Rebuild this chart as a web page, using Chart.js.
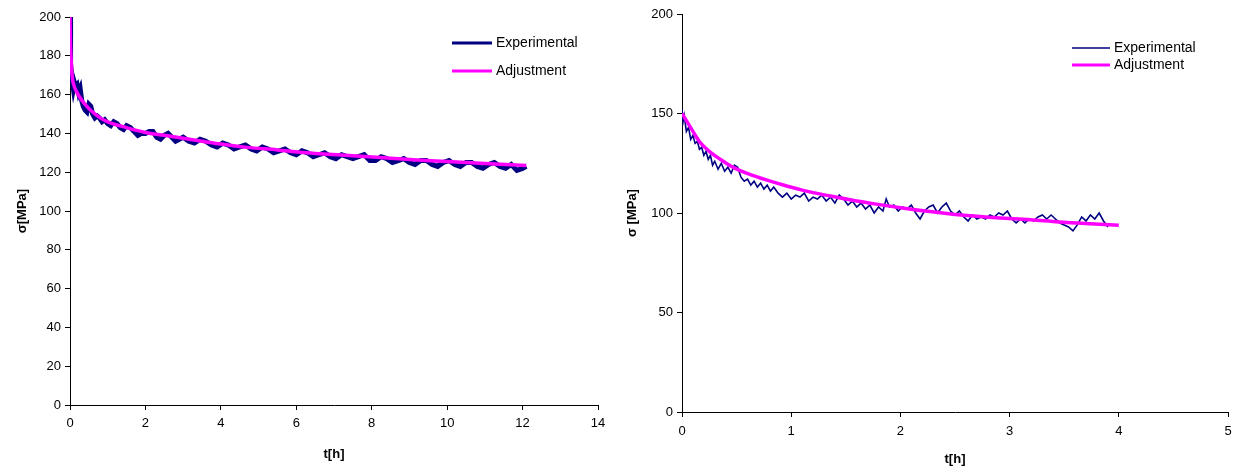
<!DOCTYPE html>
<html>
<head>
<meta charset="utf-8">
<script src="https://cdn.jsdelivr.net/npm/chart.js@4.4.1/dist/chart.umd.min.js"></script>
<style>
    body { margin: 0; background: #fff; }
    .panel { position: absolute; top: 0; width: 620px; height: 474px; }
</style>
</head>
<body>
<div class="panel" style="left:0"><canvas id="chartLeft" width="620" height="474"></canvas></div>
<div class="panel" style="left:620px"><canvas id="chartRight" width="620" height="474"></canvas></div>
<script>
// Sol grafik - deney verisi (t[h], sigma[MPa])
const expTimeLeft = [0.00, 0.01, 0.02, 0.04, 0.06, 0.09, 0.12, 0.15, 0.19, 0.23, 0.27, 0.31, 0.35, 0.40, 0.45,
    0.50, 0.55, 0.60, 0.66, 0.72, 0.78, 0.85, 0.92, 1.00, 1.08, 1.16, 1.25, 1.33, 1.42, 1.50, 1.60, 1.70,
    1.80, 1.90, 2.00, 2.10, 2.20, 2.30, 2.40, 2.50, 2.60, 2.70, 2.80, 2.90, 3.00, 3.15, 3.30, 3.45, 3.60,
    3.75, 3.90, 4.05, 4.20, 4.35, 4.50, 4.65, 4.80, 4.95, 5.10, 5.25, 5.40, 5.55, 5.70, 5.85, 6.00, 6.15,
    6.30, 6.45, 6.60, 6.75, 6.90, 7.05, 7.20, 7.35, 7.50, 7.65, 7.80, 7.95, 8.10, 8.25, 8.40, 8.55, 8.70,
    8.85, 9.00, 9.15, 9.30, 9.45, 9.60, 9.75, 9.90, 10.05, 10.20, 10.35, 10.50, 10.65, 10.80, 10.95, 11.10,
    11.25, 11.40, 11.55, 11.70, 11.85, 12.00, 12.10];
const expValLeft = [200, 186, 176, 170, 167, 163, 166, 164, 165, 161, 163, 157, 154, 152, 151,
    155, 154, 150, 148, 149, 148, 146, 147, 145, 144, 146, 145, 143, 142, 144, 143, 141,
    139, 140, 140, 141, 141, 138, 137, 139, 140, 138, 136, 137, 138, 136, 135, 137, 136,
    134, 133, 135, 134, 132, 133, 134, 132, 131, 133, 132, 130, 131, 132, 130, 129, 131,
    130, 128, 129, 130, 128, 127, 129, 128, 127, 128, 129, 126, 126, 128, 127, 125, 126,
    127, 125, 124, 126, 126, 124, 123, 125, 126, 124, 123, 125, 125, 123, 122, 124,
    125, 123, 122, 124, 121, 122, 123];

// Sol grafik - uyum eğrisi
const fitTimeLeft = [0, 0.01, 0.03, 0.06, 0.1, 0.2, 0.3, 0.4, 0.6, 0.8, 1.0, 1.5, 2.0, 2.5, 3.0, 3.5, 4.0,
    4.7, 5.5, 6.1, 6.5, 7.5, 8.5, 9.1, 10, 11, 12.1];
const fitValLeft = [200, 188, 178, 169, 165, 160.5, 157.5, 155, 151, 148, 146, 143, 140.5, 139, 137.5, 136, 134.5,
    132.8, 131.5, 130.3, 129.7, 128.5, 127.2, 126.4, 125.5, 124.5, 123.4];

// Sağ grafik - deney verisi
const expTimeRight = [0.00, 0.01, 0.02, 0.04, 0.06, 0.08, 0.10, 0.12, 0.14, 0.16, 0.18, 0.20, 0.22, 0.24, 0.26,
    0.28, 0.30, 0.33, 0.36, 0.39, 0.42, 0.45, 0.48, 0.51, 0.54, 0.57, 0.60, 0.63, 0.66, 0.69, 0.72, 0.75,
    0.78, 0.81, 0.84, 0.88, 0.92, 0.96, 1.00, 1.04, 1.08, 1.12, 1.16, 1.20, 1.24, 1.28, 1.32, 1.36, 1.40,
    1.44, 1.48, 1.52, 1.56, 1.60, 1.64, 1.68, 1.72, 1.76, 1.80, 1.84, 1.87, 1.90, 1.94, 1.98, 2.02, 2.06,
    2.10, 2.14, 2.18, 2.22, 2.26, 2.30, 2.34, 2.38, 2.42, 2.46, 2.50, 2.54, 2.58, 2.62, 2.66, 2.70, 2.74,
    2.78, 2.82, 2.86, 2.90, 2.94, 2.98, 3.02, 3.06, 3.10, 3.14, 3.18, 3.22, 3.26, 3.30, 3.34, 3.38, 3.42,
    3.46, 3.50, 3.54, 3.58, 3.62, 3.66, 3.70, 3.74, 3.78, 3.82, 3.86, 3.90];
const expValRight = [152, 146, 149, 141, 143, 137, 139, 135, 136, 132, 133, 129, 131, 127, 129,
    124, 126, 122, 125, 121, 123, 120, 124, 123, 118, 116, 117, 114, 116, 113, 115, 112,
    114, 111, 113, 110, 108, 110, 107, 109, 108, 110, 106, 108, 107, 109, 106, 108, 105,
    109, 107, 104, 106, 103, 105, 102, 104, 100, 103, 101, 107, 103, 104, 101, 103, 102,
    104, 100, 97, 101, 103, 104, 100, 103, 105, 101, 99, 101, 98, 96, 99, 97, 98,
    97, 99, 98, 100, 99, 101, 97, 95, 97, 95, 97, 96, 98, 99, 97, 99, 97,
    95, 94, 93, 91, 94, 98, 96, 99, 97, 100, 96, 93];

// Sağ grafik - uyum eğrisi
const fitTimeRight = [0, 0.05, 0.1, 0.165, 0.25, 0.35, 0.45, 0.59, 0.75, 0.9, 1.1, 1.36, 1.6, 1.81, 2.05,
    2.27, 2.5, 2.73, 3.0, 3.19, 3.45, 3.74, 4.0];
const fitValRight = [150, 145.5, 141, 135.5, 131, 127, 123.5, 120, 117, 114.5, 111.5, 108.5, 106, 104.2, 102.3,
    100.7, 99.3, 98.2, 97.2, 96.6, 95.5, 94.6, 93.9];

const seriesNames = ['Experimental', 'Adjustment'];
const FONT = "'Liberation Sans', Arial, sans-serif";

function toPoints(xs, ys) {
    return xs.map((x, i) => ({ x: x, y: ys[i] }));
}

// Grafik içine elle çizilen lejant
const insideLegend = {
    id: 'insideLegend',
    afterDraw(chart, args, opts) {
        const ctx = chart.ctx;
        ctx.save();
        ctx.font = opts.fontSize + 'px ' + FONT;
        ctx.textBaseline = 'middle';
        ctx.fillStyle = '#000';
        chart.data.datasets.forEach((ds, i) => {
            const y = opts.y + i * opts.rowH;
            ctx.strokeStyle = ds.borderColor;
            ctx.lineWidth = opts.lineWidths[i];
            ctx.beginPath();
            ctx.moveTo(opts.x, y);
            ctx.lineTo(opts.x + opts.lineLen, y);
            ctx.stroke();
            ctx.fillText(ds.label, opts.x + opts.lineLen + 4, y);
        });
        ctx.restore();
    }
};

function renderChart(canvasId, cfg) {
    const ctx = document.getElementById(canvasId).getContext('2d');
    return new Chart(ctx, {
        type: 'scatter',
        data: {
            datasets: [{
                label: seriesNames[0],
                data: toPoints(cfg.expT, cfg.expV),
                borderColor: '#000080',
                backgroundColor: '#000080',
                borderWidth: cfg.expWidth,
                showLine: true,
                pointRadius: 0,
                tension: 0,
                order: 2
            }, {
                label: seriesNames[1],
                data: toPoints(cfg.fitT, cfg.fitV),
                borderColor: '#ff00ff',
                backgroundColor: '#ff00ff',
                borderWidth: 3.5,
                showLine: true,
                pointRadius: 0,
                cubicInterpolationMode: 'monotone',
                order: 1
            }]
        },
        options: {
            responsive: false,
            animation: false,
            layout: { padding: cfg.padding },
            plugins: {
                legend: { display: false },
                tooltip: { enabled: false },
                insideLegend: cfg.legend
            },
            scales: {
                x: {
                    type: 'linear',
                    min: 0,
                    max: cfg.xMax,
                    afterFit: s => { s.height = cfg.xHeight; },
                    ticks: { stepSize: cfg.xStep, color: '#000', padding: cfg.xTickPad, font: { family: FONT, size: 13 } },
                    grid: { drawOnChartArea: false, drawTicks: true, tickLength: 5, color: '#000' },
                    border: { display: true, color: '#000', width: 1 },
                    title: { display: true, text: 't[h]', color: '#000', font: { family: FONT, size: 13, weight: 'bold' }, padding: { top: 0, bottom: cfg.xTitlePad } }
                },
                y: {
                    type: 'linear',
                    min: 0,
                    max: 200,
                    afterFit: s => { s.width = cfg.yWidth; },
                    ticks: { stepSize: cfg.yStep, color: '#000', padding: 4, font: { family: FONT, size: 13 } },
                    grid: { drawOnChartArea: false, drawTicks: true, tickLength: 5, color: '#000' },
                    border: { display: true, color: '#000', width: 1 },
                    title: { display: true, text: cfg.yTitle, color: '#000', font: { family: FONT, size: 13, weight: 'bold' }, padding: { top: cfg.yTitlePad, bottom: 0 } }
                }
            }
        },
        plugins: [insideLegend]
    });
}

renderChart('chartLeft', {
    expT: expTimeLeft, expV: expValLeft, fitT: fitTimeLeft, fitV: fitValLeft,
    expWidth: 5, xMax: 14, xStep: 2, yStep: 20,
    xHeight: 69, yWidth: 70, xTickPad: 6, xTitlePad: 12, yTitlePad: 15,
    yTitle: 'σ[MPa]',
    padding: { top: 17, right: 22, bottom: 0, left: 0 },
    legend: { x: 452, y: 43, rowH: 28, lineLen: 40, fontSize: 14, lineWidths: [3, 3] }
});

renderChart('chartRight', {
    expT: expTimeRight, expV: expValRight, fitT: fitTimeRight, fitV: fitValRight,
    expWidth: 1.6, xMax: 5, xStep: 1, yStep: 50,
    xHeight: 62, yWidth: 62, xTickPad: 7, xTitlePad: 7, yTitlePad: 5,
    yTitle: 'σ [MPa]',
    padding: { top: 14, right: 12, bottom: 0, left: 0 },
    legend: { x: 452, y: 48, rowH: 17, lineLen: 38, fontSize: 14, lineWidths: [1.5, 3] }
});
</script>
</body>
</html>
